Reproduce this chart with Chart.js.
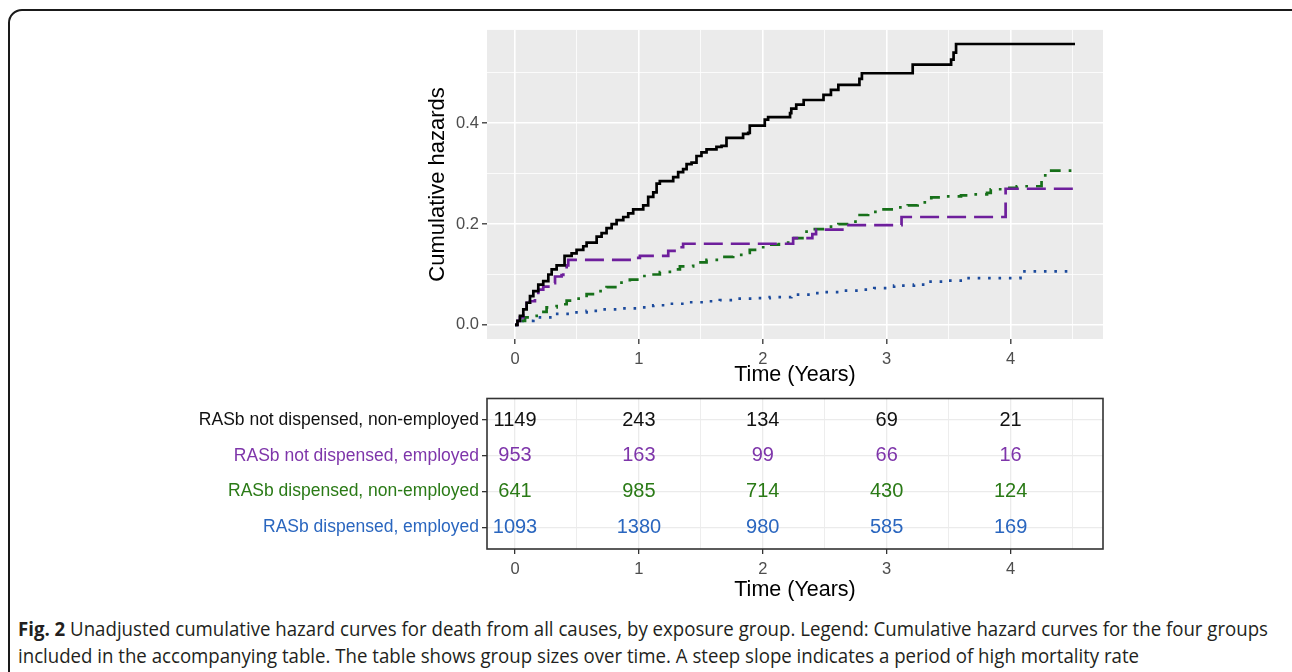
<!DOCTYPE html>
<html><head><meta charset="utf-8">
<script src="https://cdn.jsdelivr.net/npm/chart.js@4.4.1/dist/chart.umd.min.js"></script>
<style>
html,body{margin:0;padding:0;background:#fff;width:1292px;height:672px;overflow:hidden;}
#frame{position:absolute;left:8px;top:9px;width:1300px;height:720px;border:2px solid #1a1a1a;border-radius:14px;box-sizing:border-box;}
#c1wrap{position:absolute;left:380px;top:17px;width:740px;height:380px;}
#c2wrap{position:absolute;left:150px;top:385px;width:970px;height:230px;}
#caption{position:absolute;left:18px;top:615px;font-family:'Liberation Sans Narrow','Open Sans',sans-serif;font-size:19.5px;line-height:27px;color:#231f20;white-space:nowrap;transform-origin:0 0;}
#caption b{font-weight:bold;}
</style></head>
<body>
<div id="frame"></div>
<div id="c1wrap"><canvas id="c1" width="740" height="380"></canvas></div>
<div id="c2wrap"><canvas id="c2" width="970" height="230"></canvas></div>
<div id="caption"><div id="cap1"><b>Fig. 2</b> Unadjusted cumulative hazard curves for death from all causes, by exposure group. Legend: Cumulative hazard curves for the four groups</div><div>included in the accompanying table. The table shows group sizes over time. A steep slope indicates a period of high mortality rate</div></div>
<script>
// ---------- DATA ----------
const groups = ['RASb not dispensed, non-employed','RASb not dispensed, employed','RASb dispensed, non-employed','RASb dispensed, employed'];
const xTickLabels = ['0','1','2','3','4'];
const yTickLabels = ['0.0','0.2','0.4'];
const riskTimes = [0,1,2,3,4];
const atRiskNotDispNonEmp = [1149,243,134,69,21];
const atRiskNotDispEmp   = [953,163,99,66,16];
const atRiskDispNonEmp   = [641,985,714,430,124];
const atRiskDispEmp      = [1093,1380,980,585,169];

const hazNotDispNonEmpT = [0,0.02,0.04,0.067,0.094,0.121,0.148,0.188,0.228,0.269,0.296,0.336,0.40,0.457,0.497,0.551,0.578,0.659,0.699,0.739,0.78,0.82,0.874,0.914,0.954,1.035,1.075,1.116,1.143,1.169,1.277,1.317,1.357,1.385,1.425,1.465,1.505,1.546,1.626,1.667,1.707,1.841,1.882,1.895,2.016,2.043,2.22,2.23,2.27,2.33,2.49,2.55,2.61,2.78,2.80,3.21,3.52,3.54,3.56,4.52];
const hazNotDispNonEmpY = [0,0.008,0.018,0.031,0.044,0.057,0.067,0.080,0.087,0.100,0.110,0.118,0.137,0.142,0.149,0.156,0.163,0.175,0.182,0.192,0.200,0.208,0.214,0.221,0.229,0.237,0.254,0.263,0.280,0.285,0.293,0.303,0.309,0.319,0.322,0.335,0.342,0.348,0.353,0.355,0.371,0.379,0.381,0.395,0.407,0.412,0.420,0.429,0.437,0.446,0.456,0.466,0.476,0.488,0.499,0.516,0.526,0.540,0.557,0.557];

const hazNotDispEmpT = [0,0.02,0.04,0.067,0.094,0.121,0.161,0.188,0.228,0.269,0.323,0.376,0.39,0.417,0.43,0.981,1.008,1.237,1.317,1.357,2.245,2.40,2.43,2.66,3.12,3.96,4.52];
const hazNotDispEmpY = [0,0.008,0.015,0.028,0.044,0.047,0.054,0.070,0.076,0.083,0.096,0.099,0.108,0.118,0.129,0.133,0.137,0.147,0.154,0.161,0.172,0.180,0.189,0.198,0.214,0.270,0.270];

const hazDispNonEmpT = [0,0.04,0.081,0.121,0.175,0.255,0.336,0.417,0.497,0.578,0.659,0.739,0.847,0.927,1.008,1.089,1.169,1.25,1.331,1.438,1.546,1.653,1.761,1.855,1.895,1.976,2.056,2.13,2.23,2.34,2.42,2.53,2.61,2.69,2.77,2.85,2.96,3.07,3.17,3.25,3.36,3.47,3.60,3.70,3.81,3.84,3.94,4.05,4.25,4.28,4.52];
const hazDispNonEmpY = [0,0.008,0.015,0.018,0.026,0.035,0.041,0.048,0.052,0.061,0.067,0.075,0.084,0.090,0.097,0.100,0.105,0.110,0.116,0.124,0.129,0.135,0.139,0.143,0.149,0.154,0.159,0.163,0.172,0.185,0.190,0.195,0.200,0.205,0.218,0.224,0.229,0.233,0.237,0.243,0.253,0.255,0.257,0.259,0.262,0.269,0.272,0.275,0.290,0.306,0.306];

const hazDispEmpT = [0,0.034,0.148,0.309,0.44,0.578,0.712,0.847,0.98,1.116,1.25,1.385,1.52,1.653,1.788,1.92,2.056,2.23,2.39,2.5,2.66,2.77,2.9,3.06,3.22,3.32,3.47,3.64,4.08,4.52];
const hazDispEmpY = [0,0.008,0.015,0.022,0.025,0.028,0.031,0.033,0.035,0.039,0.042,0.045,0.047,0.049,0.052,0.053,0.055,0.060,0.063,0.065,0.068,0.070,0.073,0.078,0.080,0.086,0.088,0.093,0.106,0.106];

// ---------- STYLE ----------
const lineColors = ['#000000','#6E1F9C','#17701A','#1B4A9C'];
const textColors = ['#111111','#7E35AA','#2A7A16','#2A66BF'];
const FONT = "'Liberation Sans', Arial, sans-serif";
const X_MIN = -0.226, X_MAX = 4.746;

const pts = (T, Y) => T.map((t, i) => ({x: t, y: Y[i]}));
const isMult = (v, s) => Math.abs(v / s - Math.round(v / s)) < 1e-6;

const panelBg = {
  id: 'panelBg',
  beforeDraw(chart, args, opts) {
    const {ctx, chartArea: a} = chart;
    ctx.save(); ctx.fillStyle = opts.color;
    ctx.fillRect(a.left, a.top, a.width, a.height); ctx.restore();
  }
};

// ---------- HAZARD CHART ----------
const hazardSets = [
  {T: hazNotDispNonEmpT, Y: hazNotDispNonEmpY, dash: []},
  {T: hazNotDispEmpT, Y: hazNotDispEmpY, dash: [19, 8]},
  {T: hazDispNonEmpT, Y: hazDispNonEmpY, dash: [2.7, 8, 10.8, 8]},
  {T: hazDispEmpT, Y: hazDispEmpY, dash: [2.6, 7.8]}
];

new Chart(document.getElementById('c1'), {
  type: 'line',
  data: {
    datasets: hazardSets.map((s, i) => ({
      label: groups[i],
      data: pts(s.T, s.Y),
      borderColor: lineColors[i],
      borderWidth: 2.7,
      borderDash: s.dash,
      borderCapStyle: 'butt',
      stepped: 'before',
      pointRadius: 0,
      fill: false,
      order: i
    }))
  },
  options: {
    responsive: false, animation: false, devicePixelRatio: 1,
    layout: {padding: {top: 10, right: 17, left: 0, bottom: 0}},
    plugins: {legend: {display: false}, tooltip: {enabled: false}, panelBg: {color: '#EBEBEB'}},
    scales: {
      x: {
        type: 'linear', min: X_MIN, max: X_MAX,
        afterBuildTicks: sc => { sc.ticks = [0,0.5,1,1.5,2,2.5,3,3.5,4,4.5].map(v => ({value: v})); },
        afterFit: sc => { sc.height = 58; },
        ticks: {
          autoSkip: false, maxRotation: 0, padding: 6, color: '#4D4D4D',
          font: {family: FONT, size: 16.5},
          callback: v => isMult(v, 1) ? xTickLabels[Math.round(v)] : ''
        },
        grid: {
          color: '#FFFFFF',
          lineWidth: c => isMult(c.tick.value, 1) ? 1.6 : 0.8,
          tickColor: c => isMult(c.tick.value, 1) ? '#333333' : 'rgba(0,0,0,0)',
          tickLength: 5, tickWidth: 1.3
        },
        border: {display: false},
        title: {display: true, text: 'Time (Years)', color: '#000', font: {family: FONT, size: 21.5}, padding: {top: 0, bottom: 9}}
      },
      y: {
        type: 'linear', min: -0.0279, max: 0.585,
        afterBuildTicks: sc => { sc.ticks = [0,0.1,0.2,0.3,0.4,0.5].map(v => ({value: v})); },
        afterFit: sc => { sc.width = 107; },
        ticks: {
          autoSkip: false, padding: 3, color: '#4D4D4D',
          font: {family: FONT, size: 16.5},
          callback: v => isMult(v, 0.2) ? yTickLabels[Math.round(v / 0.2)] : ''
        },
        grid: {
          color: '#FFFFFF',
          lineWidth: c => isMult(c.tick.value, 0.2) ? 1.6 : 0.8,
          tickColor: c => isMult(c.tick.value, 0.2) ? '#333333' : 'rgba(0,0,0,0)',
          tickLength: 5, tickWidth: 1.3
        },
        border: {display: false},
        title: {display: true, text: 'Cumulative hazards', color: '#000', font: {family: FONT, size: 22}, padding: {top: 45, bottom: 0}}
      }
    }
  },
  plugins: [panelBg]
});

// ---------- RISK TABLE ----------
const riskSets = [atRiskNotDispNonEmp, atRiskNotDispEmp, atRiskDispNonEmp, atRiskDispEmp];

const tableDecor = {
  id: 'tableDecor',
  afterDatasetsDraw(chart) {
    const {ctx, chartArea: a} = chart;
    ctx.save();
    ctx.font = '20px ' + FONT;
    ctx.textAlign = 'center'; ctx.textBaseline = 'middle';
    chart.data.datasets.forEach((ds, i) => {
      const meta = chart.getDatasetMeta(i);
      meta.data.forEach((el, j) => {
        ctx.fillStyle = textColors[i];
        ctx.fillText(String(ds.data[j].n), el.x, el.y);
      });
    });
    ctx.strokeStyle = '#333333'; ctx.lineWidth = 1.6;
    ctx.strokeRect(a.left, a.top, a.width, a.height);
    ctx.restore();
  }
};

new Chart(document.getElementById('c2'), {
  type: 'scatter',
  data: {
    datasets: riskSets.map((arr, i) => ({
      label: groups[i],
      data: arr.map((n, j) => ({x: riskTimes[j], y: i + 1, n: n})),
      pointRadius: 0, showLine: false
    }))
  },
  options: {
    responsive: false, animation: false, devicePixelRatio: 1,
    layout: {padding: {top: 8, right: 17, left: 0, bottom: 0}},
    plugins: {legend: {display: false}, tooltip: {enabled: false}},
    scales: {
      x: {
        type: 'linear', min: X_MIN, max: X_MAX,
        afterBuildTicks: sc => { sc.ticks = [0,0.5,1,1.5,2,2.5,3,3.5,4,4.5].map(v => ({value: v})); },
        afterFit: sc => { sc.height = 66; },
        ticks: {
          autoSkip: false, maxRotation: 0, padding: 6, color: '#4D4D4D',
          font: {family: FONT, size: 16.5},
          callback: v => isMult(v, 1) ? xTickLabels[Math.round(v)] : ''
        },
        grid: {
          color: '#EBEBEB',
          lineWidth: c => isMult(c.tick.value, 1) ? 1.3 : 0.9,
          tickColor: c => isMult(c.tick.value, 1) ? '#333333' : 'rgba(0,0,0,0)',
          tickLength: 5, tickWidth: 1.3
        },
        border: {display: false},
        title: {display: true, text: 'Time (Years)', color: '#000', font: {family: FONT, size: 21.5}, padding: {top: 0, bottom: 12}}
      },
      y: {
        type: 'linear', min: 0.4, max: 4.6, reverse: true,
        afterBuildTicks: sc => { sc.ticks = [1,2,3,4].map(v => ({value: v})); },
        afterFit: sc => { sc.width = 337; },
        ticks: {
          autoSkip: false, padding: 3,
          color: c => textColors[c.index],
          font: {family: FONT, size: 17.5},
          callback: v => groups[Math.round(v) - 1]
        },
        grid: {color: '#EBEBEB', lineWidth: 1.3, tickColor: '#333333', tickLength: 5, tickWidth: 1.3},
        border: {display: false}
      }
    }
  },
  plugins: [tableDecor]
});

// caption width fit
const cap = document.getElementById('caption');
const w = document.getElementById('cap1').getBoundingClientRect().width;
cap.style.transform = 'scaleX(' + (1250 / w) + ')';
</script>
</body></html>
